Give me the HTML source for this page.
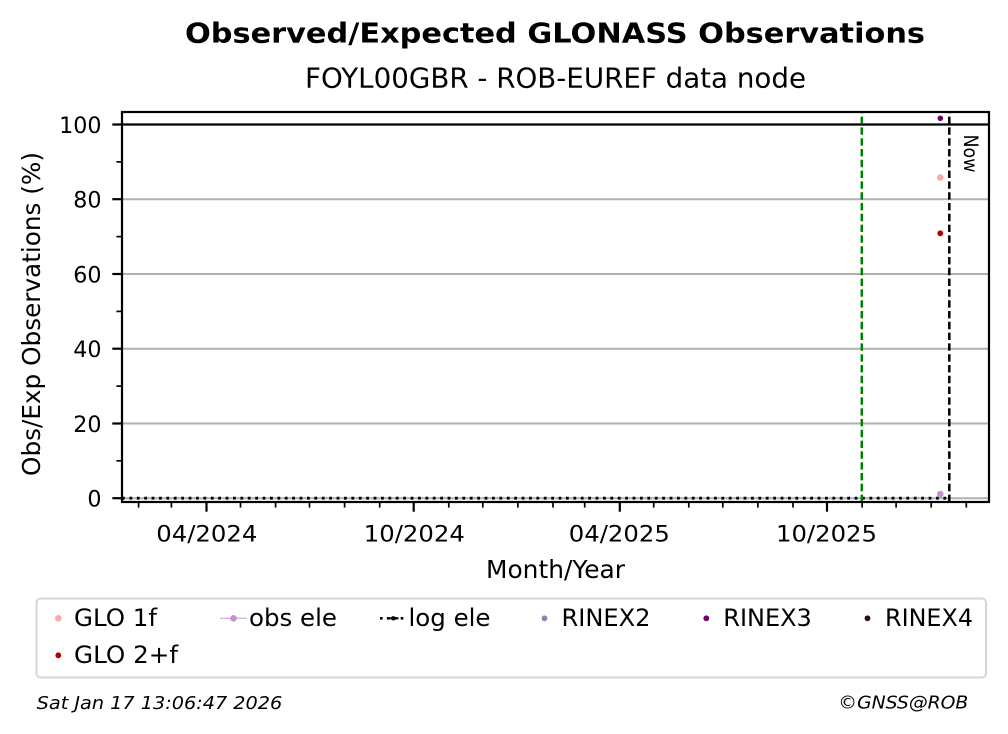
<!DOCTYPE html>
<html>
<head>
<meta charset="utf-8">
<style>
html,body{margin:0;padding:0;background:#fff;}
svg{display:block;}
text{font-family:"DejaVu Sans","Liberation Sans",sans-serif;fill:#000;}
</style>
</head>
<body>
<svg width="1008" height="734" viewBox="0 0 1008 734" xmlns="http://www.w3.org/2000/svg">
<rect x="0" y="0" width="1008" height="734" fill="#fff"/>

<!-- Titles -->
<text x="555" y="42.7" font-size="27.8" font-weight="bold" text-anchor="middle" textLength="740" lengthAdjust="spacingAndGlyphs">Observed/Expected GLONASS Observations</text>
<text x="555.5" y="87.3" font-size="27.6" text-anchor="middle" textLength="501" lengthAdjust="spacingAndGlyphs">FOYL00GBR - ROB-EUREF data node</text>

<!-- Grid lines -->
<g stroke="#b0b0b0" stroke-width="2">
<line x1="122" y1="498.2" x2="989" y2="498.2"/>
<line x1="122" y1="423.5" x2="989" y2="423.5"/>
<line x1="122" y1="348.7" x2="989" y2="348.7"/>
<line x1="122" y1="274" x2="989" y2="274"/>
<line x1="122" y1="199.2" x2="989" y2="199.2"/>
</g>
<!-- 100% line -->
<line x1="122" y1="124.5" x2="989" y2="124.5" stroke="#000" stroke-width="2.2"/>

<!-- log ele dotted line -->
<line x1="122" y1="498.2" x2="947" y2="498.2" stroke="#000" stroke-width="2.8" stroke-dasharray="2.8 4.6"/>

<!-- vertical lines -->
<line x1="861.8" y1="502" x2="861.8" y2="112" stroke="#008000" stroke-width="2.5" stroke-dasharray="7.4 3.4"/>
<line x1="949.3" y1="502" x2="949.3" y2="112" stroke="#000" stroke-width="2.5" stroke-dasharray="7.4 3.4"/>

<!-- Now label -->
<text x="0" y="0" font-size="19.5" transform="translate(964,134.5) rotate(90)" textLength="38" lengthAdjust="spacingAndGlyphs">Now</text>

<!-- data points -->
<circle cx="940.3" cy="118.3" r="2.8" fill="#6b0068"/>
<circle cx="940.3" cy="177.5" r="3.3" fill="#fbaaa8"/>
<circle cx="940.3" cy="233.3" r="2.9" fill="#b00000"/>
<circle cx="940.3" cy="494" r="3.3" fill="#c490d0"/>

<!-- spines -->
<rect x="122" y="112" width="867" height="390" fill="none" stroke="#000" stroke-width="2.2"/>

<!-- y ticks -->
<g stroke="#000" stroke-width="2.2">
<line x1="112.3" y1="498.2" x2="122" y2="498.2"/>
<line x1="112.3" y1="423.5" x2="122" y2="423.5"/>
<line x1="112.3" y1="348.7" x2="122" y2="348.7"/>
<line x1="112.3" y1="274" x2="122" y2="274"/>
<line x1="112.3" y1="199.2" x2="122" y2="199.2"/>
<line x1="112.3" y1="124.5" x2="122" y2="124.5"/>
</g>
<g stroke="#000" stroke-width="1.7">
<line x1="116.4" y1="460.8" x2="122" y2="460.8"/>
<line x1="116.4" y1="386.1" x2="122" y2="386.1"/>
<line x1="116.4" y1="311.4" x2="122" y2="311.4"/>
<line x1="116.4" y1="236.6" x2="122" y2="236.6"/>
<line x1="116.4" y1="161.9" x2="122" y2="161.9"/>
</g>
<g font-size="22.2" text-anchor="end">
<text x="101.5" y="506.7">0</text>
<text x="101.5" y="432">20</text>
<text x="101.5" y="357.2">40</text>
<text x="101.5" y="282.5">60</text>
<text x="101.5" y="207.7">80</text>
<text x="101.5" y="133">100</text>
</g>

<!-- x ticks -->
<g stroke="#000" stroke-width="2.2">
<line x1="206.5" y1="502" x2="206.5" y2="511.7"/>
<line x1="413.7" y1="502" x2="413.7" y2="511.7"/>
<line x1="619.8" y1="502" x2="619.8" y2="511.7"/>
<line x1="827" y1="502" x2="827" y2="511.7"/>
</g>
<g stroke="#000" stroke-width="1.7">
<line x1="138.6" y1="502" x2="138.6" y2="507.6"/>
<line x1="171.4" y1="502" x2="171.4" y2="507.6"/>
<line x1="240.5" y1="502" x2="240.5" y2="507.6"/>
<line x1="275.6" y1="502" x2="275.6" y2="507.6"/>
<line x1="309.5" y1="502" x2="309.5" y2="507.6"/>
<line x1="344.6" y1="502" x2="344.6" y2="507.6"/>
<line x1="379.7" y1="502" x2="379.7" y2="507.6"/>
<line x1="448.8" y1="502" x2="448.8" y2="507.6"/>
<line x1="482.8" y1="502" x2="482.8" y2="507.6"/>
<line x1="517.9" y1="502" x2="517.9" y2="507.6"/>
<line x1="553" y1="502" x2="553" y2="507.6"/>
<line x1="584.7" y1="502" x2="584.7" y2="507.6"/>
<line x1="653.7" y1="502" x2="653.7" y2="507.6"/>
<line x1="688.8" y1="502" x2="688.8" y2="507.6"/>
<line x1="722.8" y1="502" x2="722.8" y2="507.6"/>
<line x1="757.9" y1="502" x2="757.9" y2="507.6"/>
<line x1="793" y1="502" x2="793" y2="507.6"/>
<line x1="862.1" y1="502" x2="862.1" y2="507.6"/>
<line x1="896.1" y1="502" x2="896.1" y2="507.6"/>
<line x1="931.2" y1="502" x2="931.2" y2="507.6"/>
<line x1="966.3" y1="502" x2="966.3" y2="507.6"/>
</g>
<g font-size="22.2" text-anchor="middle">
<text x="206.8" y="541.5" textLength="101" lengthAdjust="spacingAndGlyphs">04/2024</text>
<text x="414.3" y="541.5" textLength="101" lengthAdjust="spacingAndGlyphs">10/2024</text>
<text x="619.3" y="541.5" textLength="101" lengthAdjust="spacingAndGlyphs">04/2025</text>
<text x="826.5" y="541.5" textLength="101" lengthAdjust="spacingAndGlyphs">10/2025</text>
</g>

<!-- axis labels -->
<text x="555.5" y="578" font-size="24.5" text-anchor="middle" textLength="139" lengthAdjust="spacingAndGlyphs">Month/Year</text>
<text x="0" y="0" font-size="25" text-anchor="middle" transform="translate(40,314) rotate(-90)" textLength="324" lengthAdjust="spacingAndGlyphs">Obs/Exp Observations (%)</text>

<!-- legend -->
<rect x="36.5" y="598.5" width="949.5" height="79" rx="4" ry="4" fill="#fff" stroke="#d6d6d6" stroke-width="2"/>
<g font-size="24.3">
<circle cx="58.3" cy="618.3" r="3.3" fill="#fbaaa8"/>
<text x="74" y="626" textLength="83" lengthAdjust="spacingAndGlyphs">GLO 1f</text>

<line x1="220" y1="618.3" x2="247" y2="618.3" stroke="#d7b5e0" stroke-width="1.3"/>
<circle cx="233.5" cy="618.3" r="3.3" fill="#c490d0"/>
<text x="249" y="626" textLength="88" lengthAdjust="spacingAndGlyphs">obs ele</text>

<line x1="380" y1="618.3" x2="407" y2="618.3" stroke="#000" stroke-width="2.6" stroke-dasharray="2.6 4.3"/>
<circle cx="393.3" cy="618.3" r="2.2" fill="#000"/>
<line x1="388" y1="618.3" x2="398.5" y2="618.3" stroke="#000" stroke-width="2"/>
<text x="408.5" y="626" textLength="82" lengthAdjust="spacingAndGlyphs">log ele</text>

<circle cx="544.5" cy="618.3" r="2.9" fill="#8682c0"/>
<text x="561.5" y="626" textLength="89" lengthAdjust="spacingAndGlyphs">RINEX2</text>

<circle cx="706.3" cy="618.3" r="2.9" fill="#6b0068"/>
<text x="723.3" y="626" textLength="88.5" lengthAdjust="spacingAndGlyphs">RINEX3</text>

<circle cx="867.5" cy="618.3" r="2.9" fill="#2a0b22"/>
<text x="885" y="626" textLength="88" lengthAdjust="spacingAndGlyphs">RINEX4</text>

<circle cx="58.3" cy="655.3" r="2.9" fill="#b00000"/>
<text x="74" y="663" textLength="104" lengthAdjust="spacingAndGlyphs">GLO 2+f</text>
</g>

<!-- footer -->
<text x="36.7" y="709" font-size="18" font-style="italic" textLength="245.6" lengthAdjust="spacingAndGlyphs">Sat Jan 17 13:06:47 2026</text>
<text x="838.3" y="708.5" font-size="18" font-style="italic" textLength="130" lengthAdjust="spacingAndGlyphs">©GNSS@ROB</text>
</svg>
</body>
</html>
